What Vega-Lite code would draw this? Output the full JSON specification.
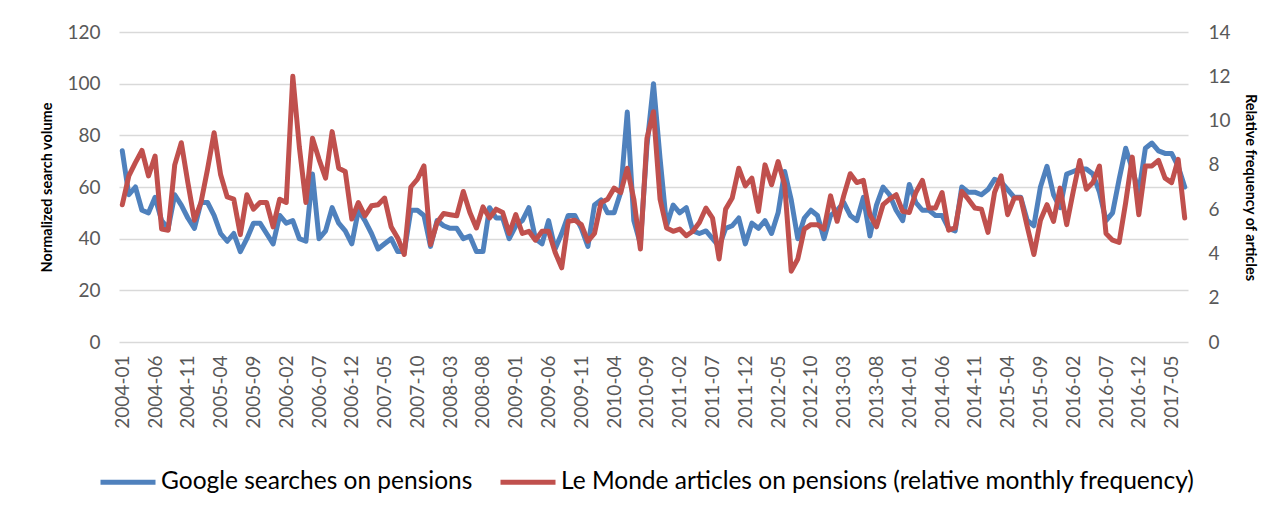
{
  "$schema": "https://vega.github.io/schema/vega-lite/v6.json",
  "width": 1069,
  "height": 310,
  "autosize": {"type": "none"},
  "padding": {"left": 119, "top": 32, "right": 88, "bottom": 177},
  "background": "white",
  "config": {"view": {"stroke": null}, "font": "Lato"},
  "data": {"values": [
    {"d":"2004-01","g":74,"m":6.2},{"d":"2004-02","g":57,"m":7.5},{"d":"2004-03","g":60,"m":8.1},{"d":"2004-04","g":51,"m":8.65},{"d":"2004-05","g":50,"m":7.5},{"d":"2004-06","g":56,"m":8.4},{"d":"2004-07","g":47,"m":5.1},{"d":"2004-08","g":44,"m":5.05},{"d":"2004-09","g":57,"m":8.0},{"d":"2004-10","g":53,"m":9.0},{"d":"2004-11","g":48,"m":7.2},{"d":"2004-12","g":44,"m":5.5},
    {"d":"2005-01","g":54,"m":6.3},{"d":"2005-02","g":54,"m":7.8},{"d":"2005-03","g":49,"m":9.45},{"d":"2005-04","g":42,"m":7.55},{"d":"2005-05","g":39,"m":6.55},{"d":"2005-06","g":42,"m":6.45},{"d":"2005-07","g":35,"m":4.85},{"d":"2005-08","g":40,"m":6.65},{"d":"2005-09","g":46,"m":6.0},{"d":"2005-10","g":46,"m":6.3},{"d":"2005-11","g":42,"m":6.3},{"d":"2005-12","g":38,"m":5.2},
    {"d":"2006-01","g":49,"m":6.45},{"d":"2006-02","g":46,"m":6.3},{"d":"2006-03","g":47,"m":12.0},{"d":"2006-04","g":40,"m":8.8},{"d":"2006-05","g":39,"m":6.3},{"d":"2006-06","g":65,"m":9.2},{"d":"2006-07","g":40,"m":8.25},{"d":"2006-08","g":43,"m":7.4},{"d":"2006-09","g":52,"m":9.5},{"d":"2006-10","g":46,"m":7.85},{"d":"2006-11","g":43,"m":7.7},{"d":"2006-12","g":38,"m":5.55},
    {"d":"2007-01","g":51,"m":6.3},{"d":"2007-02","g":47,"m":5.7},{"d":"2007-03","g":42,"m":6.15},{"d":"2007-04","g":36,"m":6.2},{"d":"2007-05","g":38,"m":6.5},{"d":"2007-06","g":40,"m":5.2},{"d":"2007-07","g":35,"m":4.7},{"d":"2007-08","g":35,"m":3.95},{"d":"2007-09","g":51,"m":7.0},{"d":"2007-10","g":51,"m":7.35},{"d":"2007-11","g":49,"m":7.95},{"d":"2007-12","g":37,"m":4.4},
    {"d":"2008-01","g":47,"m":5.4},{"d":"2008-02","g":45,"m":5.8},{"d":"2008-03","g":44,"m":5.75},{"d":"2008-04","g":44,"m":5.7},{"d":"2008-05","g":40,"m":6.8},{"d":"2008-06","g":41,"m":5.85},{"d":"2008-07","g":35,"m":5.15},{"d":"2008-08","g":35,"m":6.1},{"d":"2008-09","g":52,"m":5.6},{"d":"2008-10","g":48,"m":6.0},{"d":"2008-11","g":48,"m":5.85},{"d":"2008-12","g":40,"m":4.9},
    {"d":"2009-01","g":45,"m":5.75},{"d":"2009-02","g":47,"m":4.9},{"d":"2009-03","g":52,"m":5.0},{"d":"2009-04","g":40,"m":4.6},{"d":"2009-05","g":38,"m":5.0},{"d":"2009-06","g":47,"m":5.0},{"d":"2009-07","g":36,"m":4.05},{"d":"2009-08","g":42,"m":3.35},{"d":"2009-09","g":49,"m":5.45},{"d":"2009-10","g":49,"m":5.5},{"d":"2009-11","g":44,"m":5.3},{"d":"2009-12","g":37,"m":4.55},
    {"d":"2010-01","g":53,"m":4.9},{"d":"2010-02","g":55,"m":6.3},{"d":"2010-03","g":50,"m":6.45},{"d":"2010-04","g":50,"m":6.95},{"d":"2010-05","g":58,"m":6.75},{"d":"2010-06","g":89,"m":7.85},{"d":"2010-07","g":47,"m":6.45},{"d":"2010-08","g":38,"m":4.2},{"d":"2010-09","g":76,"m":9.2},{"d":"2010-10","g":100,"m":10.4},{"d":"2010-11","g":71,"m":6.45},{"d":"2010-12","g":45,"m":5.15},
    {"d":"2011-01","g":53,"m":5.0},{"d":"2011-02","g":50,"m":5.1},{"d":"2011-03","g":52,"m":4.8},{"d":"2011-04","g":43,"m":5.0},{"d":"2011-05","g":42,"m":5.4},{"d":"2011-06","g":43,"m":6.05},{"d":"2011-07","g":40,"m":5.6},{"d":"2011-08","g":37,"m":3.75},{"d":"2011-09","g":44,"m":6.0},{"d":"2011-10","g":45,"m":6.5},{"d":"2011-11","g":48,"m":7.85},{"d":"2011-12","g":38,"m":7.05},
    {"d":"2012-01","g":46,"m":7.4},{"d":"2012-02","g":44,"m":5.9},{"d":"2012-03","g":47,"m":8.0},{"d":"2012-04","g":42,"m":7.1},{"d":"2012-05","g":50,"m":8.15},{"d":"2012-06","g":66,"m":7.1},{"d":"2012-07","g":55,"m":3.2},{"d":"2012-08","g":40,"m":3.75},{"d":"2012-09","g":48,"m":5.1},{"d":"2012-10","g":51,"m":5.3},{"d":"2012-11","g":49,"m":5.3},{"d":"2012-12","g":40,"m":5.1},
    {"d":"2013-01","g":49,"m":6.6},{"d":"2013-02","g":51,"m":5.45},{"d":"2013-03","g":54,"m":6.6},{"d":"2013-04","g":49,"m":7.6},{"d":"2013-05","g":47,"m":7.2},{"d":"2013-06","g":56,"m":7.3},{"d":"2013-07","g":41,"m":5.75},{"d":"2013-08","g":53,"m":5.2},{"d":"2013-09","g":60,"m":6.2},{"d":"2013-10","g":57,"m":6.45},{"d":"2013-11","g":51,"m":6.65},{"d":"2013-12","g":47,"m":5.9},
    {"d":"2014-01","g":61,"m":5.85},{"d":"2014-02","g":54,"m":6.75},{"d":"2014-03","g":51,"m":7.3},{"d":"2014-04","g":51,"m":6.05},{"d":"2014-05","g":49,"m":6.05},{"d":"2014-06","g":49,"m":6.75},{"d":"2014-07","g":44,"m":5.05},{"d":"2014-08","g":43,"m":5.15},{"d":"2014-09","g":60,"m":6.8},{"d":"2014-10","g":58,"m":6.45},{"d":"2014-11","g":58,"m":6.05},{"d":"2014-12","g":57,"m":6.0},
    {"d":"2015-01","g":59,"m":4.95},{"d":"2015-02","g":63,"m":6.75},{"d":"2015-03","g":62,"m":7.5},{"d":"2015-04","g":59,"m":5.75},{"d":"2015-05","g":56,"m":6.5},{"d":"2015-06","g":56,"m":6.5},{"d":"2015-07","g":47,"m":5.2},{"d":"2015-08","g":45,"m":3.95},{"d":"2015-09","g":60,"m":5.5},{"d":"2015-10","g":68,"m":6.2},{"d":"2015-11","g":57,"m":5.45},{"d":"2015-12","g":52,"m":6.95},
    {"d":"2016-01","g":65,"m":5.3},{"d":"2016-02","g":66,"m":6.8},{"d":"2016-03","g":67,"m":8.2},{"d":"2016-04","g":67,"m":6.9},{"d":"2016-05","g":65,"m":7.2},{"d":"2016-06","g":58,"m":7.95},{"d":"2016-07","g":47,"m":4.9},{"d":"2016-08","g":50,"m":4.6},{"d":"2016-09","g":63,"m":4.5},{"d":"2016-10","g":75,"m":6.3},{"d":"2016-11","g":67,"m":8.35},{"d":"2016-12","g":58,"m":5.75},
    {"d":"2017-01","g":75,"m":7.95},{"d":"2017-02","g":77,"m":7.95},{"d":"2017-03","g":74,"m":8.2},{"d":"2017-04","g":73,"m":7.4},{"d":"2017-05","g":73,"m":7.2},{"d":"2017-06","g":68,"m":8.25},{"d":"2017-07","g":60,"m":5.6}
  ]},
  "encoding": {
    "x": {
      "field": "d", "type": "ordinal", "sort": null,
      "scale": {"type": "point", "padding": 0.5},
      "axis": {
        "title": null,
        "values": ["2004-01","2004-06","2004-11","2005-04","2005-09","2006-02","2006-07","2006-12","2007-05","2007-10","2008-03","2008-08","2009-01","2009-06","2009-11","2010-04","2010-09","2011-02","2011-07","2011-12","2012-05","2012-10","2013-03","2013-08","2014-01","2014-06","2014-11","2015-04","2015-09","2016-02","2016-07","2016-12","2017-05"],
        "labelAngle": -90, "labelPadding": 13, "labelFontSize": 19, "labelColor": "#595959",
        "labelOverlap": false, "ticks": false, "domain": false, "grid": false
      }
    }
  },
  "layer": [
    {
      "mark": {"type": "line", "strokeWidth": 5, "strokeJoin": "round", "strokeCap": "round"},
      "encoding": {
        "y": {
          "field": "g", "type": "quantitative",
          "scale": {"domain": [0, 120], "nice": false},
          "axis": {
            "values": [0, 20, 40, 60, 80, 100, 120],
            "grid": true, "gridColor": "#D9D9D9", "gridWidth": 1.5,
            "domain": false, "ticks": false, "labelPadding": 19, "labelFontSize": 19, "labelColor": "#595959",
            "title": "Normalized search volume", "titleFontSize": 14.5, "titleFontWeight": "bold", "titleColor": "#000000", "titlePadding": 12
          }
        },
        "color": {
          "datum": "Google searches on pensions", "type": "nominal",
          "scale": {"domain": ["Google searches on pensions", "Le Monde articles on pensions (relative monthly frequency)"], "range": ["#4F81BD", "#C0504D"]},
          "legend": {
            "title": null, "orient": "none", "legendX": -21, "legendY": 420, "direction": "horizontal",
            "symbolType": "stroke", "symbolSize": 3025, "symbolStrokeWidth": 5,
            "labelFontSize": 24.5, "labelColor": "#000000", "labelOffset": 3, "columnPadding": 17, "labelLimit": 900
          }
        }
      }
    },
    {
      "mark": {"type": "line", "strokeWidth": 5, "strokeJoin": "round", "strokeCap": "round"},
      "encoding": {
        "y": {
          "field": "m", "type": "quantitative",
          "scale": {"domain": [0, 14], "nice": false},
          "axis": {
            "orient": "right", "values": [0, 2, 4, 6, 8, 10, 12, 14],
            "grid": false, "domain": false, "ticks": false, "labelPadding": 20, "labelFontSize": 19, "labelColor": "#595959",
            "title": "Relative frequency of articles", "titleFontSize": 14.5, "titleFontWeight": "bold", "titleColor": "#000000", "titlePadding": 12
          }
        },
        "color": {"datum": "Le Monde articles on pensions (relative monthly frequency)", "type": "nominal"}
      }
    }
  ],
  "resolve": {"scale": {"y": "independent"}}
}
